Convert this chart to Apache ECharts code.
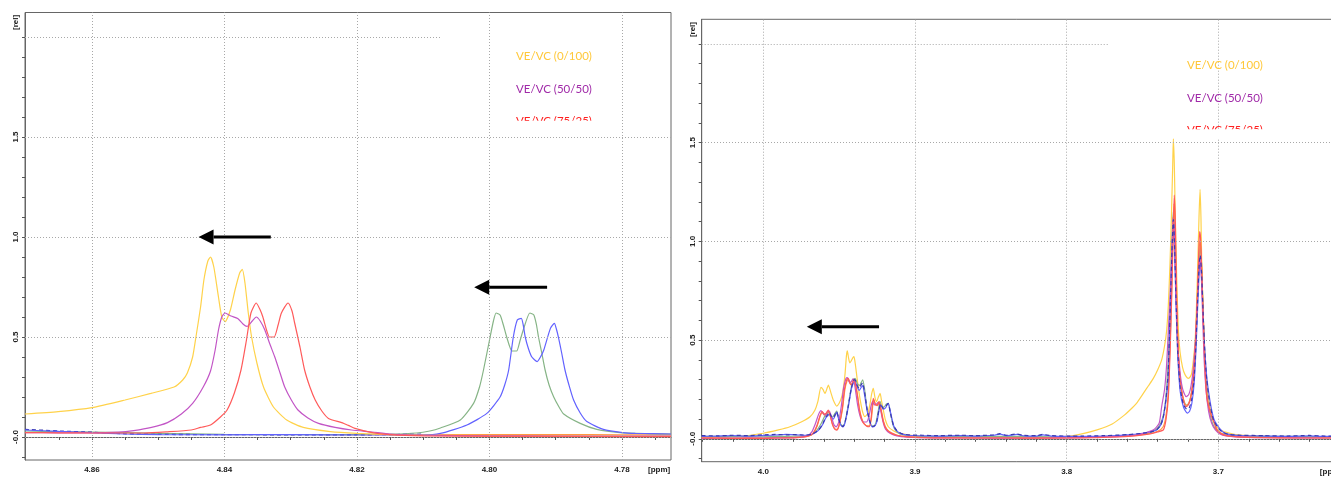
<!DOCTYPE html>
<html><head><meta charset="utf-8">
<script src="https://cdn.jsdelivr.net/npm/echarts@6/dist/echarts.min.js"></script>
<style>html,body{margin:0;padding:0;background:#fff;overflow:hidden}#c{width:1331px;height:477px}</style>
</head><body><div id="c"></div>
<script>
// ---------- axes / ticks ----------
const L_X_RANGE = [4.7726, 4.8701];
const R_X_RANGE = [3.6126, 4.0406];
const L_Y_RANGE = [-0.115, 2.1225];
const R_Y_RANGE = [-0.116, 2.125];
const L_X_TICKS = [4.870,4.865,4.860,4.855,4.850,4.845,4.840,4.835,4.830,4.825,4.820,4.815,4.810,4.805,4.800,4.795,4.790,4.785,4.780,4.775];
const L_X_LABELS = [4.86,4.84,4.82,4.80,4.78];
const R_X_TICKS = [4.04,4.02,4.00,3.98,3.96,3.94,3.92,3.90,3.88,3.86,3.84,3.82,3.80,3.78,3.76,3.74,3.72,3.70,3.68,3.66,3.64,3.62];
const R_X_LABELS = [4.0,3.9,3.8,3.7];
const Y_TICKS = [-0.1,0,0.1,0.2,0.3,0.4,0.5,0.6,0.7,0.8,0.9,1.0,1.1,1.2,1.3,1.4,1.5,1.6,1.7,1.8,1.9,2.0];
const Y_LABELS = [0,0.5,1.0,1.5];
const Y_GRIDLINES = [0,0.5,1.0,1.5];
const L_UNIT_X = 4.7744, R_UNIT_X = 3.6258, UNIT_Y = 2.073;
const L_TOPLINE_END = 4.8074, R_TOPLINE_END = 3.7728;

// ---------- legend / annotations ----------
const LEGEND_TEXTS = ['VE/VC (0/100)','VE/VC (50/50)','VE/VC (75/25)'];
const LEGEND_COLORS = ['#FFC83A','#A02AA8','#FF2020'];
const ARROWS = [
  {grid:0, tail:[4.8330,1.0], tip:[4.8439,1.0]},
  {grid:0, tail:[4.7913,0.7485], tip:[4.8023,0.7485]},
  {grid:1, tail:[3.9237,0.568], tip:[3.9713,0.568]}
];

// ---------- left panel spectra (ppm, rel) ----------
const L_YELLOW = [[4.8701,0.115],[4.8651,0.127],[4.8600,0.147],[4.8550,0.185],[4.8511,0.218],[4.8476,0.250],[4.8463,0.285],[4.8456,0.320],[4.8448,0.400],[4.8443,0.500],[4.8436,0.650],[4.8431,0.785],[4.8425,0.880],[4.8421,0.900],[4.8416,0.850],[4.8409,0.700],[4.8404,0.600],[4.8399,0.577],[4.8391,0.635],[4.8384,0.735],[4.8377,0.820],[4.8373,0.838],[4.8369,0.770],[4.8364,0.620],[4.8359,0.500],[4.8351,0.370],[4.8341,0.250],[4.8326,0.150],[4.8306,0.085],[4.8281,0.048],[4.8240,0.027],[4.8200,0.018],[4.8150,0.012],[4.8100,0.009],[4.8000,0.007],[4.7900,0.006],[4.7800,0.005],[4.7726,0.005]];
const L_PURPLE = [[4.8701,0.022],[4.8650,0.021],[4.8600,0.020],[4.8560,0.024],[4.8537,0.032],[4.8510,0.048],[4.8486,0.072],[4.8465,0.115],[4.8448,0.168],[4.8432,0.250],[4.8421,0.330],[4.8414,0.435],[4.8409,0.535],[4.8404,0.600],[4.8399,0.620],[4.8390,0.605],[4.8380,0.593],[4.8372,0.565],[4.8366,0.553],[4.8358,0.580],[4.8352,0.600],[4.8346,0.580],[4.8339,0.535],[4.8332,0.470],[4.8324,0.400],[4.8316,0.320],[4.8309,0.250],[4.8299,0.185],[4.8289,0.135],[4.8274,0.095],[4.8258,0.068],[4.8233,0.048],[4.8208,0.035],[4.8177,0.025],[4.8150,0.015],[4.8100,0.009],[4.8000,0.006],[4.7900,0.005],[4.7800,0.005],[4.7726,0.004]];
const L_RED = [[4.8701,0.022],[4.8650,0.021],[4.8600,0.020],[4.8520,0.020],[4.8486,0.026],[4.8450,0.035],[4.8436,0.048],[4.8421,0.060],[4.8406,0.100],[4.8396,0.135],[4.8385,0.220],[4.8375,0.335],[4.8367,0.480],[4.8360,0.620],[4.8352,0.670],[4.8346,0.635],[4.8342,0.600],[4.8336,0.530],[4.8332,0.500],[4.8325,0.500],[4.8319,0.560],[4.8314,0.620],[4.8304,0.670],[4.8298,0.630],[4.8294,0.570],[4.8286,0.450],[4.8279,0.335],[4.8271,0.250],[4.8263,0.185],[4.8253,0.130],[4.8243,0.093],[4.8223,0.072],[4.8213,0.058],[4.8203,0.043],[4.8177,0.022],[4.8150,0.012],[4.8100,0.006],[4.8000,0.003],[4.7900,0.003],[4.7800,0.002],[4.7726,0.002]];
const L_GREEN = [[4.8701,0.030],[4.8650,0.027],[4.8600,0.025],[4.8500,0.018],[4.8400,0.013],[4.8300,0.012],[4.8200,0.012],[4.8150,0.014],[4.8110,0.020],[4.8090,0.030],[4.8074,0.045],[4.8044,0.085],[4.8024,0.168],[4.8015,0.250],[4.8009,0.335],[4.7999,0.500],[4.7994,0.580],[4.7990,0.620],[4.7984,0.610],[4.7979,0.560],[4.7974,0.500],[4.7966,0.430],[4.7959,0.430],[4.7954,0.480],[4.7949,0.535],[4.7939,0.620],[4.7933,0.610],[4.7929,0.560],[4.7926,0.500],[4.7921,0.420],[4.7916,0.335],[4.7910,0.260],[4.7903,0.200],[4.7895,0.150],[4.7888,0.115],[4.7863,0.068],[4.7838,0.038],[4.7803,0.022],[4.7760,0.017],[4.7726,0.015]];
const L_BLUE = [[4.8701,0.035],[4.8650,0.028],[4.8600,0.022],[4.8550,0.015],[4.8500,0.012],[4.8400,0.011],[4.8300,0.012],[4.8200,0.010],[4.8100,0.010],[4.8074,0.018],[4.8034,0.060],[4.8004,0.118],[4.7984,0.200],[4.7977,0.260],[4.7971,0.335],[4.7964,0.500],[4.7958,0.585],[4.7952,0.593],[4.7949,0.560],[4.7946,0.500],[4.7941,0.440],[4.7936,0.400],[4.7928,0.377],[4.7923,0.400],[4.7918,0.435],[4.7908,0.543],[4.7902,0.568],[4.7899,0.540],[4.7896,0.500],[4.7891,0.420],[4.7886,0.335],[4.7880,0.260],[4.7873,0.185],[4.7863,0.120],[4.7853,0.077],[4.7828,0.038],[4.7799,0.022],[4.7780,0.018],[4.7726,0.015]];
const L_NAVY = [[4.8701,0.038],[4.8650,0.030],[4.8600,0.024],[4.8550,0.016],[4.8500,0.013],[4.8400,0.012],[4.8300,0.011],[4.8200,0.011],[4.8150,0.012],[4.8100,0.014]];
const L_ORANGE = [[4.8250,0.012],[4.8200,0.012],[4.8100,0.011],[4.8000,0.012],[4.7900,0.012],[4.7800,0.011],[4.7726,0.011]];

// ---------- right panel spectra (ppm, rel) ----------
const R_YELLOW = [[4.0406,0.005],[4.0300,0.008],[4.0154,0.012],[4.0000,0.028],[3.9900,0.045],[3.9824,0.061],[3.9750,0.085],[3.9692,0.112],[3.9660,0.145],[3.9640,0.19],[3.9620,0.26],[3.9607,0.25],[3.9593,0.23],[3.9580,0.255],[3.9571,0.272],[3.9555,0.235],[3.9539,0.197],[3.9516,0.166],[3.9500,0.18],[3.9483,0.213],[3.9470,0.27],[3.9461,0.33],[3.9452,0.42],[3.9446,0.445],[3.9438,0.41],[3.9430,0.385],[3.9424,0.39],[3.9410,0.41],[3.9402,0.416],[3.9392,0.37],[3.9384,0.32],[3.9372,0.25],[3.9362,0.20],[3.9345,0.135],[3.9330,0.112],[3.9310,0.13],[3.9297,0.175],[3.9285,0.23],[3.9275,0.256],[3.9264,0.21],[3.9253,0.188],[3.9242,0.21],[3.9230,0.23],[3.9220,0.19],[3.9209,0.146],[3.9195,0.095],[3.9176,0.061],[3.9140,0.04],[3.9099,0.028],[3.9000,0.015],[3.8835,0.008],[3.8600,0.006],[3.8400,0.006],[3.8200,0.006],[3.8000,0.012],[3.7900,0.025],[3.7800,0.045],[3.7700,0.075],[3.7620,0.12],[3.7583,0.146],[3.7540,0.18],[3.7495,0.23],[3.7460,0.27],[3.7429,0.306],[3.7400,0.35],[3.7374,0.40],[3.7355,0.47],[3.7341,0.55],[3.7330,0.68],[3.7319,0.89],[3.7310,1.12],[3.7301,1.395],[3.7297,1.52],[3.7291,1.40],[3.7286,1.2],[3.7280,0.98],[3.7275,0.82],[3.7264,0.55],[3.7253,0.44],[3.7236,0.36],[3.7220,0.325],[3.7198,0.306],[3.7185,0.315],[3.7176,0.333],[3.7165,0.40],[3.7154,0.49],[3.7145,0.66],[3.7136,0.89],[3.7128,1.12],[3.7121,1.264],[3.7115,1.12],[3.7110,0.89],[3.7100,0.62],[3.7088,0.40],[3.7070,0.24],[3.7055,0.163],[3.7030,0.09],[3.7011,0.061],[3.6970,0.038],[3.6924,0.028],[3.6858,0.019],[3.6700,0.012],[3.6500,0.008],[3.6126,0.008]];
const R_PURPLE = [[4.0406,0.002],[4.030,0.003],[4.020,0.004],[4.010,0.003],[4.000,0.004],[3.990,0.005],[3.980,0.006],[3.975,0.009],[3.971,0.015],[3.968,0.035],[3.9655,0.08],[3.9635,0.125],[3.9620,0.143],[3.9605,0.128],[3.9590,0.12],[3.9577,0.138],[3.9565,0.14],[3.9550,0.11],[3.9535,0.072],[3.9520,0.06],[3.9503,0.085],[3.9485,0.17],[3.9470,0.26],[3.9455,0.305],[3.9445,0.31],[3.9432,0.285],[3.9420,0.29],[3.9408,0.305],[3.9395,0.26],[3.9378,0.17],[3.9360,0.11],[3.9340,0.085],[3.9320,0.085],[3.9305,0.11],[3.9290,0.165],[3.9280,0.19],[3.9268,0.172],[3.9255,0.175],[3.9242,0.185],[3.9228,0.15],[3.9212,0.09],[3.9195,0.05],[3.9165,0.028],[3.9120,0.015],[3.9050,0.008],[3.8950,0.006],[3.8800,0.004],[3.8600,0.004],[3.8400,0.003],[3.8200,0.004],[3.8000,0.005],[3.7800,0.008],[3.7650,0.012],[3.7550,0.018],[3.7480,0.03],[3.7420,0.05],[3.7390,0.08],[3.7374,0.163],[3.7355,0.25],[3.7341,0.38],[3.7330,0.55],[3.7319,0.72],[3.7310,0.9],[3.7300,1.1],[3.7295,1.125],[3.7288,1.0],[3.7280,0.75],[3.7268,0.48],[3.7252,0.33],[3.7235,0.25],[3.7212,0.213],[3.7195,0.225],[3.7180,0.27],[3.7165,0.36],[3.7150,0.52],[3.7138,0.72],[3.7128,0.86],[3.7121,0.905],[3.7114,0.85],[3.7105,0.65],[3.7095,0.42],[3.7082,0.25],[3.7065,0.14],[3.7045,0.08],[3.7020,0.045],[3.6990,0.025],[3.6950,0.015],[3.6880,0.01],[3.6700,0.006],[3.6500,0.005],[3.6300,0.004],[3.6126,0.004]];
const R_RED = [[4.0406,0.004],[4.030,0.003],[4.020,0.002],[4.010,0.003],[4.000,0.002],[3.990,0.004],[3.980,0.005],[3.975,0.008],[3.970,0.015],[3.967,0.03],[3.9645,0.07],[3.9625,0.12],[3.9612,0.138],[3.9598,0.125],[3.9585,0.13],[3.9572,0.146],[3.9560,0.12],[3.9545,0.075],[3.9530,0.05],[3.9516,0.044],[3.9500,0.07],[3.9480,0.15],[3.9465,0.25],[3.9450,0.3],[3.9440,0.306],[3.9428,0.28],[3.9418,0.275],[3.9405,0.298],[3.9395,0.29],[3.9380,0.22],[3.9365,0.14],[3.9345,0.085],[3.9320,0.065],[3.9302,0.061],[3.9290,0.1],[3.9275,0.205],[3.9262,0.175],[3.9250,0.17],[3.9238,0.188],[3.9225,0.15],[3.9210,0.09],[3.9190,0.05],[3.9160,0.03],[3.9120,0.018],[3.9050,0.01],[3.8950,0.006],[3.8800,0.005],[3.8600,0.004],[3.8400,0.004],[3.8200,0.003],[3.8000,0.004],[3.7800,0.006],[3.7650,0.01],[3.7550,0.015],[3.7450,0.025],[3.7400,0.035],[3.7363,0.045],[3.7345,0.1],[3.7330,0.21],[3.7318,0.45],[3.7308,0.72],[3.7298,1.05],[3.7291,1.235],[3.7284,1.1],[3.7276,0.75],[3.7265,0.45],[3.7250,0.28],[3.7232,0.2],[3.7215,0.163],[3.7200,0.17],[3.7185,0.2],[3.7170,0.27],[3.7155,0.42],[3.7142,0.65],[3.7132,0.88],[3.7124,1.05],[3.7118,1.02],[3.7110,0.85],[3.7100,0.6],[3.7090,0.38],[3.7077,0.213],[3.7060,0.15],[3.7044,0.112],[3.7025,0.075],[3.7011,0.045],[3.6980,0.025],[3.6940,0.015],[3.6880,0.01],[3.6700,0.006],[3.6500,0.004],[3.6300,0.004],[3.6126,0.004]];
const R_ORANGE = [[4.0406,0.005],[4.020,0.004],[4.000,0.005],[3.985,0.006],[3.975,0.008],[3.970,0.014],[3.967,0.028],[3.9645,0.065],[3.9625,0.115],[3.9610,0.132],[3.9597,0.12],[3.9584,0.125],[3.9570,0.14],[3.9558,0.115],[3.9543,0.072],[3.9528,0.05],[3.9513,0.048],[3.9498,0.075],[3.9478,0.15],[3.9462,0.25],[3.9447,0.295],[3.9437,0.3],[3.9425,0.275],[3.9415,0.272],[3.9402,0.292],[3.9392,0.28],[3.9377,0.21],[3.9362,0.135],[3.9342,0.085],[3.9318,0.065],[3.9300,0.065],[3.9287,0.105],[3.9272,0.2],[3.9259,0.172],[3.9247,0.168],[3.9235,0.185],[3.9222,0.145],[3.9207,0.088],[3.9187,0.05],[3.9157,0.03],[3.9117,0.018],[3.9050,0.011],[3.8950,0.007],[3.8800,0.006],[3.8600,0.005],[3.8400,0.005],[3.8200,0.005],[3.8000,0.006],[3.7800,0.008],[3.7650,0.012],[3.7550,0.017],[3.7450,0.027],[3.7400,0.038],[3.7365,0.06],[3.7347,0.11],[3.7332,0.22],[3.7320,0.45],[3.7309,0.72],[3.7300,1.02],[3.7293,1.19],[3.7286,1.08],[3.7278,0.76],[3.7266,0.46],[3.7251,0.29],[3.7233,0.21],[3.7214,0.17],[3.7199,0.175],[3.7184,0.21],[3.7169,0.28],[3.7154,0.43],[3.7141,0.66],[3.7131,0.88],[3.7123,1.0],[3.7116,0.97],[3.7108,0.82],[3.7098,0.58],[3.7087,0.37],[3.7074,0.215],[3.7058,0.15],[3.7042,0.11],[3.7022,0.072],[3.7006,0.045],[3.6975,0.025],[3.6935,0.016],[3.6870,0.011],[3.6700,0.007],[3.6500,0.006],[3.6300,0.005],[3.6126,0.005]];
const R_GREEN = [[4.0406,0.012],[4.030,0.013],[4.020,0.012],[4.010,0.014],[4.000,0.013],[3.990,0.012],[3.980,0.013],[3.972,0.015],[3.968,0.022],[3.965,0.04],[3.962,0.075],[3.9595,0.115],[3.9580,0.125],[3.9571,0.138],[3.9560,0.12],[3.9545,0.11],[3.9530,0.125],[3.9516,0.14],[3.9505,0.11],[3.9490,0.075],[3.9475,0.065],[3.9460,0.09],[3.9440,0.17],[3.9420,0.26],[3.9405,0.3],[3.9395,0.306],[3.9380,0.28],[3.9365,0.27],[3.9355,0.285],[3.9345,0.298],[3.9332,0.25],[3.9318,0.16],[3.9300,0.095],[3.9285,0.065],[3.9270,0.065],[3.9255,0.09],[3.9240,0.15],[3.9231,0.19],[3.9220,0.165],[3.9205,0.16],[3.9190,0.175],[3.9176,0.18],[3.9162,0.13],[3.9145,0.07],[3.9125,0.04],[3.9100,0.025],[3.9050,0.016],[3.9000,0.014],[3.8900,0.012],[3.8700,0.012],[3.8500,0.012],[3.8300,0.012],[3.8100,0.01],[3.7900,0.01],[3.7750,0.012],[3.7600,0.016],[3.7500,0.022],[3.7450,0.03],[3.7407,0.05],[3.7380,0.08],[3.7360,0.13],[3.7345,0.22],[3.7332,0.38],[3.7320,0.62],[3.7310,0.9],[3.7301,1.1],[3.7295,1.16],[3.7288,1.05],[3.7280,0.78],[3.7268,0.47],[3.7252,0.3],[3.7235,0.21],[3.7212,0.17],[3.7195,0.18],[3.7180,0.22],[3.7165,0.31],[3.7150,0.47],[3.7138,0.7],[3.7128,0.9],[3.7120,0.975],[3.7112,0.9],[3.7102,0.68],[3.7092,0.45],[3.7080,0.28],[3.7062,0.15],[3.7040,0.08],[3.7015,0.045],[3.6985,0.028],[3.6945,0.02],[3.6880,0.015],[3.6700,0.012],[3.6500,0.012],[3.6300,0.01],[3.6126,0.01]];
const R_BLUE = [[4.0406,0.012],[4.030,0.014],[4.020,0.016],[4.010,0.013],[4.000,0.016],[3.990,0.02],[3.985,0.022],[3.978,0.02],[3.972,0.018],[3.968,0.022],[3.964,0.04],[3.961,0.07],[3.9585,0.11],[3.9570,0.12],[3.9562,0.13],[3.9550,0.11],[3.9538,0.1],[3.9525,0.12],[3.9516,0.135],[3.9505,0.105],[3.9490,0.07],[3.9475,0.06],[3.9460,0.085],[3.9440,0.16],[3.9420,0.25],[3.9405,0.285],[3.9395,0.29],[3.9380,0.26],[3.9368,0.245],[3.9355,0.26],[3.9345,0.27],[3.9332,0.22],[3.9315,0.14],[3.9298,0.085],[3.9280,0.06],[3.9265,0.065],[3.9250,0.09],[3.9235,0.15],[3.9222,0.17],[3.9210,0.15],[3.9196,0.155],[3.9185,0.17],[3.9176,0.18],[3.9160,0.13],[3.9140,0.065],[3.9120,0.04],[3.9090,0.025],[3.9040,0.018],[3.8950,0.015],[3.8850,0.014],[3.8700,0.016],[3.8600,0.014],[3.8480,0.018],[3.8438,0.024],[3.8400,0.016],[3.8327,0.022],[3.8280,0.015],[3.8200,0.014],[3.8156,0.02],[3.8100,0.014],[3.8000,0.012],[3.7900,0.012],[3.7750,0.014],[3.7600,0.02],[3.7500,0.028],[3.7450,0.035],[3.7407,0.045],[3.7380,0.07],[3.7363,0.11],[3.7345,0.2],[3.7330,0.3],[3.7315,0.72],[3.7305,0.95],[3.7297,1.075],[3.7289,0.95],[3.7280,0.7],[3.7268,0.42],[3.7252,0.24],[3.7230,0.16],[3.7205,0.13],[3.7190,0.14],[3.7175,0.18],[3.7160,0.28],[3.7148,0.45],[3.7136,0.68],[3.7126,0.85],[3.7119,0.89],[3.7110,0.8],[3.7100,0.6],[3.7090,0.45],[3.7075,0.3],[3.7055,0.19],[3.7030,0.1],[3.7000,0.06],[3.6970,0.035],[3.6930,0.022],[3.6850,0.016],[3.6700,0.014],[3.6550,0.012],[3.6400,0.015],[3.6300,0.012],[3.6126,0.012]];
const R_NAVY = [[4.0406,0.016],[4.030,0.015],[4.020,0.018],[4.010,0.016],[4.000,0.02],[3.992,0.022],[3.985,0.02],[3.978,0.021],[3.972,0.019],[3.968,0.024],[3.964,0.042],[3.961,0.072],[3.9588,0.11],[3.9572,0.125],[3.9565,0.133],[3.9552,0.113],[3.9540,0.105],[3.9527,0.122],[3.9517,0.138],[3.9505,0.108],[3.9490,0.072],[3.9475,0.062],[3.9460,0.088],[3.9440,0.165],[3.9420,0.255],[3.9405,0.295],[3.9396,0.3],[3.9381,0.27],[3.9368,0.255],[3.9356,0.272],[3.9346,0.283],[3.9332,0.235],[3.9316,0.15],[3.9298,0.09],[3.9282,0.062],[3.9267,0.065],[3.9252,0.09],[3.9237,0.15],[3.9225,0.178],[3.9212,0.155],[3.9198,0.158],[3.9186,0.172],[3.9177,0.178],[3.9162,0.13],[3.9142,0.068],[3.9120,0.042],[3.9090,0.027],[3.9040,0.02],[3.8950,0.018],[3.8850,0.016],[3.8700,0.018],[3.8600,0.016],[3.8480,0.02],[3.8440,0.026],[3.8400,0.018],[3.8330,0.024],[3.8280,0.017],[3.8200,0.016],[3.8160,0.022],[3.8100,0.016],[3.8000,0.014],[3.7900,0.014],[3.7750,0.016],[3.7600,0.021],[3.7500,0.028],[3.7450,0.034],[3.7407,0.046],[3.7380,0.07],[3.7362,0.115],[3.7346,0.2],[3.7331,0.34],[3.7317,0.68],[3.7306,0.95],[3.7297,1.11],[3.7289,0.98],[3.7280,0.72],[3.7268,0.44],[3.7252,0.26],[3.7231,0.175],[3.7208,0.15],[3.7192,0.158],[3.7177,0.195],[3.7162,0.29],[3.7149,0.46],[3.7137,0.7],[3.7127,0.88],[3.7120,0.93],[3.7111,0.84],[3.7101,0.64],[3.7090,0.45],[3.7077,0.3],[3.7057,0.18],[3.7032,0.095],[3.7002,0.055],[3.6972,0.033],[3.6932,0.022],[3.6850,0.018],[3.6700,0.016],[3.6550,0.014],[3.6400,0.017],[3.6300,0.014],[3.6126,0.014]];

// ---------- styling ----------
const COLORS = {yellow:'#FFD24A', purple:'#C255C6', red:'#FF5A5A', green:'#86B486', blue:'#6262FF', navy:'#3A3AB0', orange:'#FF9A40'};
const LABEL_FONT = {color:'#222', fontSize:8, fontWeight:'bold', fontFamily:'Liberation Sans'};

const chart = echarts.init(document.getElementById('c'), null, {renderer:'canvas'});

function xAxisCfg(idx, range, ticks, labels, unitX, digits){
  return {
    type:'value', gridIndex: idx, inverse: true, min: range[0], max: range[1],
    axisLine:{show:true, lineStyle:{color:'#666', width:1}},
    axisTick:{show:true, customValues: ticks, length:3, lineStyle:{color:'#555'}},
    axisLabel:Object.assign({show:true, customValues: labels.concat([unitX]), margin:6,
      formatter: v => (Math.abs(v-unitX)<1e-9 ? '[ppm]' : v.toFixed(digits))}, LABEL_FONT),
    splitLine:{show:false}
  };
}
function yAxisCfg(idx, range){
  return {
    type:'value', gridIndex: idx, min: range[0], max: range[1],
    axisLine:{show:true, lineStyle:{color:'#666', width:1}},
    axisTick:{show:true, customValues: Y_TICKS, length:3, lineStyle:{color:'#555'}},
    axisLabel:Object.assign({show:true, customValues: Y_LABELS.concat([UNIT_Y]), rotate:90, margin:5,
      formatter: v => (Math.abs(v-UNIT_Y)<1e-9 ? '[rel]' : (v===0 ? '-0.0' : v.toFixed(1)))}, LABEL_FONT),
    splitLine:{show:false}
  };
}
function gridLines(xLabels, xMax, topEnd){
  const d = Y_GRIDLINES.map(v => ({yAxis:v}));
  xLabels.forEach(v => d.push({xAxis:v}));
  d.push([{coord:[xMax, 2.0]},{coord:[topEnd, 2.0]}]);
  return {silent:true, symbol:'none', label:{show:false}, animation:false,
    lineStyle:{color:'#a8a8a8', type:[1,2], width:1}, data:d};
}
function spec(name, data, color, g, extra){
  return Object.assign({
    name, type:'line', data, xAxisIndex:g, yAxisIndex:g, showSymbol:false, symbol:'none',
    smooth:0.2, lineStyle:{color, width:1.2}, itemStyle:{color}, z:3
  }, extra||{});
}

const series = [
  spec('L orange', L_ORANGE, COLORS.orange, 0, {markLine: gridLines(L_X_LABELS, L_X_RANGE[1], L_TOPLINE_END), z:2}),
  spec('L green', L_GREEN, COLORS.green, 0),
  spec('L navy', L_NAVY, COLORS.navy, 0, {lineStyle:{color:COLORS.navy, width:1.3, type:[4,3]}}),
  spec('L blue', L_BLUE, COLORS.blue, 0),
  spec('L yellow', L_YELLOW, COLORS.yellow, 0),
  spec('L purple', L_PURPLE, COLORS.purple, 0),
  spec('L red', L_RED, COLORS.red, 0),
  spec('R yellow', R_YELLOW, COLORS.yellow, 1, {markLine: gridLines(R_X_LABELS, R_X_RANGE[1], R_TOPLINE_END), z:2}),
  spec('R green', R_GREEN, COLORS.green, 1),
  spec('R orange', R_ORANGE, COLORS.orange, 1),
  spec('R blue', R_BLUE, COLORS.blue, 1),
  spec('R purple', R_PURPLE, COLORS.purple, 1),
  spec('R red', R_RED, COLORS.red, 1),
  spec('R navy', R_NAVY, COLORS.navy, 1, {lineStyle:{color:COLORS.navy, width:1.2, type:[4,3]}})
];

chart.setOption({
  animation:false,
  backgroundColor:'#fff',
  grid:[
    {left:25, top:12.5, width:646, height:447.5, show:true, borderColor:'#666', borderWidth:1, backgroundColor:'transparent', outerBoundsMode:'none', containLabel:false},
    {left:701.7, top:19.3, width:649.3, height:442.4, show:true, borderColor:'#666', borderWidth:1, backgroundColor:'transparent', outerBoundsMode:'none', containLabel:false}
  ],
  xAxis:[xAxisCfg(0, L_X_RANGE, L_X_TICKS, L_X_LABELS, L_UNIT_X, 2), xAxisCfg(1, R_X_RANGE, R_X_TICKS, R_X_LABELS, R_UNIT_X, 1)],
  yAxis:[yAxisCfg(0, L_Y_RANGE), yAxisCfg(1, R_Y_RANGE)],
  series
});

// legends (text only, third line clipped like the reference) and arrows
const LEGEND_POS = [{x:516, y:[56,88.8,121.5], clip:120.7}, {x:1187, y:[65.7,98,129.8], clip:129.3}];
const graphics = [];
LEGEND_POS.forEach(p => {
  LEGEND_TEXTS.forEach((t,i) => graphics.push({type:'text', z:50, silent:true,
    style:{x:p.x, y:p.y[i], text:t, fill:LEGEND_COLORS[i], font:'11.5px Lato', align:'left', verticalAlign:'middle'}}));
  graphics.push({type:'rect', z:51, silent:true, shape:{x:p.x-4, y:p.clip, width:100, height:9}, style:{fill:'#fff'}});
});
ARROWS.forEach(a => {
  const tail = chart.convertToPixel({gridIndex:a.grid}, a.tail);
  const tip = chart.convertToPixel({gridIndex:a.grid}, a.tip);
  const dir = tip[0] < tail[0] ? -1 : 1;
  const headLen = 15, half = 7.5;
  const base = tip[0] - dir*headLen;
  graphics.push({type:'line', z:60, silent:true, shape:{x1:tail[0], y1:tail[1], x2:base, y2:tip[1]}, style:{stroke:'#000', lineWidth:3}});
  graphics.push({type:'polygon', z:60, silent:true, shape:{points:[[tip[0],tip[1]],[base,tip[1]-half],[base,tip[1]+half]]}, style:{fill:'#000'}});
});
chart.setOption({graphic: graphics});
</script></body></html>
